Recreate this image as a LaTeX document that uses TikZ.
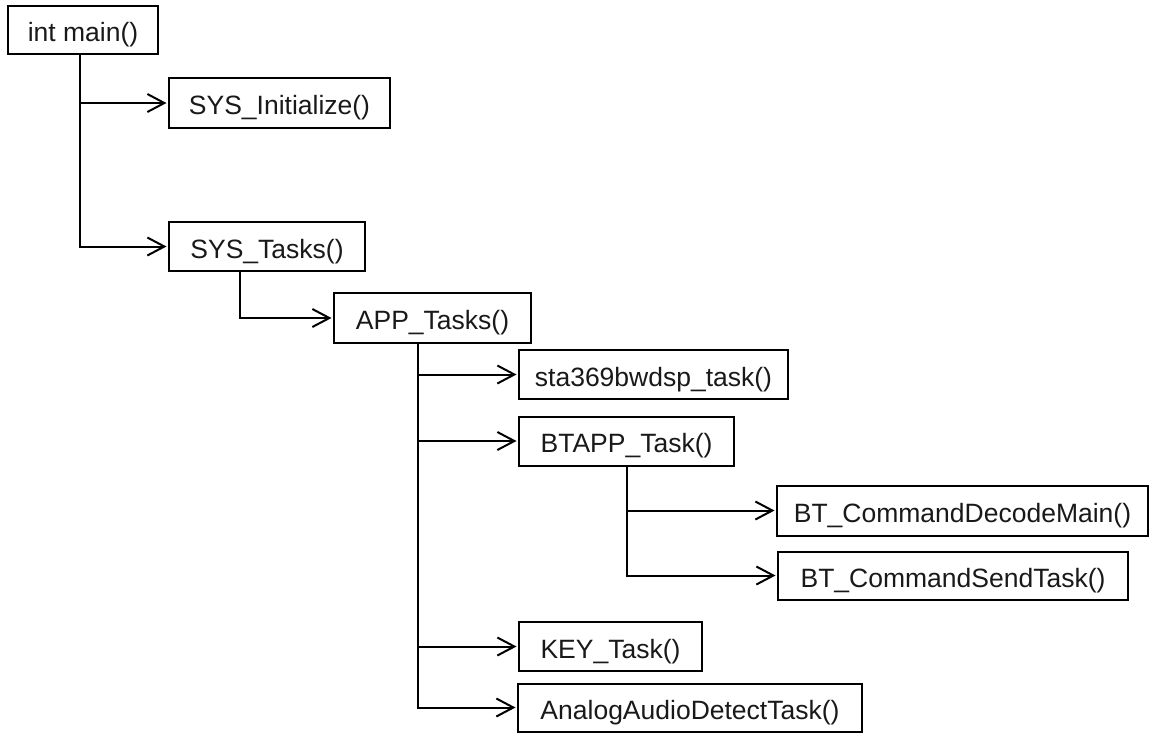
\documentclass[tikz,border=0pt]{standalone}
\usepackage{fontspec}
\setmainfont{Liberation Sans}
\usetikzlibrary{arrows.meta}
\begin{document}
\begin{tikzpicture}[x=1pt,y=-1pt,
  fbox/.style={draw=black,line width=2pt,inner sep=0pt,text height=24pt,text depth=1pt,font=\fontsize{26.5}{30}\selectfont,text=black!90},
  arr/.style={draw=black,line width=2pt,-{Straight Barb[length=17pt,width=18pt]},shorten >=1.5pt}]
\useasboundingbox (0,0) rectangle (1151,732);
\node[fbox,minimum width=150pt,minimum height=48pt] (main) at (83,30) {int main()};
\node[fbox,minimum width=221pt,minimum height=50pt] (sysinit) at (279.5,103) {SYS\_Initialize()};
\node[fbox,minimum width=196pt,minimum height=49pt] (systasks) at (267,246.5) {SYS\_Tasks()};
\node[fbox,minimum width=197pt,minimum height=50pt] (app) at (432.5,318) {APP\_Tasks()};
\node[fbox,minimum width=269pt,minimum height=49pt] (sta) at (653.5,374.5) {sta369bwdsp\_task()};
\node[fbox,minimum width=215pt,minimum height=49pt] (btapp) at (626.5,441) {BTAPP\_Task()};
\node[fbox,minimum width=371pt,minimum height=50pt] (dec) at (962.5,510.5) {BT\_CommandDecodeMain()};
\node[fbox,minimum width=350pt,minimum height=48pt] (send) at (953,575.5) {BT\_CommandSendTask()};
\node[fbox,minimum width=183pt,minimum height=49pt] (key) at (610.5,646.5) {KEY\_Task()};
\node[fbox,minimum width=344pt,minimum height=48pt] (analog) at (690,707.5) {AnalogAudioDetectTask()};
\draw[arr] ([xshift=-3pt]main.south) |- (sysinit.west);
\draw[arr] ([xshift=-3pt]main.south) |- (systasks.west);
\draw[arr] ([xshift=-27pt]systasks.south) |- (app.west);
\draw[arr] ([xshift=-14.5pt]app.south) |- (sta.west);
\draw[arr] ([xshift=-14.5pt]app.south) |- (btapp.west);
\draw[arr] ([xshift=-14.5pt]app.south) |- (key.west);
\draw[arr] ([xshift=-14.5pt]app.south) |- (analog.west);
\draw[arr] (btapp.south) |- (dec.west);
\draw[arr] (btapp.south) |- (send.west);
\end{tikzpicture}
\end{document}
